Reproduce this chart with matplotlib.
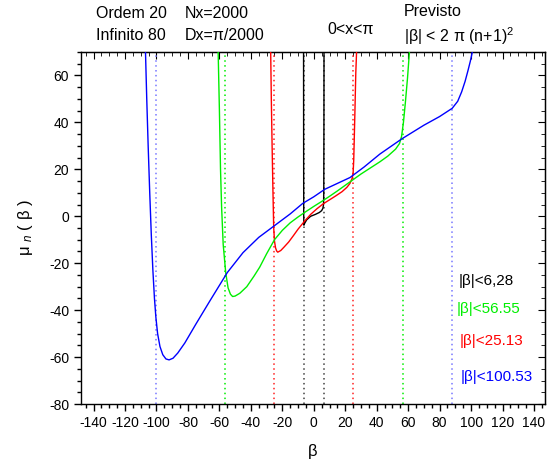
import matplotlib
matplotlib.use("Agg")
import matplotlib.pyplot as plt
from matplotlib.ticker import MultipleLocator

plt.rcParams['font.family'] = ['Liberation Sans', 'DejaVu Sans']
plt.rcParams['mathtext.fontset'] = 'custom'
plt.rcParams['mathtext.rm'] = 'Liberation Sans'
plt.rcParams['mathtext.it'] = 'Liberation Sans:italic'
plt.rcParams['axes.unicode_minus'] = False

# mu_n(beta) curves for each truncation order
black_beta = [-6.5, -6.45, -6.4, -6.3, -5.8, -4.5, -2.0, 1.0, 3.5, 5.0, 5.8, 6.2, 6.35, 6.45, 6.5]
black_mu = [70, 30, 0, -3.8, -3.0, -1.5, 0.0, 0.8, 1.6, 2.4, 3.4, 5.0, 10, 40, 70]

red_beta = [-27.4, -27.0, -26.5, -26.0, -25.5, -25.0, -24.3, -23.6, -22.9, -21.0, -19.0,
            -16.0, -13.0, -10.0, -6.0, -2.0, 2.0, 6.0, 10.0, 14.0, 18.0, 21.0, 23.0,
            24.3, 25.0, 25.4, 25.7, 26.2, 26.7, 27.2]
red_mu = [70, 50, 30, 12, -4.7, -10.5, -13.5, -14.8, -15.3, -14.6, -13.2,
          -11.0, -8.3, -5.5, -2.2, 0.8, 3.2, 5.3, 7.0, 8.7, 10.5, 12.3, 14.0,
          16.0, 18.3, 24.0, 32.0, 46.0, 61.0, 70]

green_beta = [-60.8, -60.0, -59.3, -58.6, -57.6, -56.0, -54.5, -53.0, -51.6, -50.0, -47.0,
              -42.6, -38.0, -34.4, -30.0, -25.0, -20.0, -15.0, -10.0, -5.0, 0.0, 5.0,
              10.0, 15.0, 20.0, 25.0, 30.0, 36.0, 42.0, 47.0, 52.0, 54.5, 55.8, 57.0,
              58.3, 59.6, 60.8]
green_mu = [70, 45, 20, 3.8, -12, -24, -30.5, -33.2, -34.2, -34.0, -32.8,
            -30.0, -25.5, -21.7, -16.0, -10.0, -6.0, -2.8, -0.3, 2.0, 4.2, 6.3,
            8.5, 10.8, 13.2, 15.6, 18.0, 20.6, 23.2, 25.6, 28.6, 31.0, 34.0, 40.0,
            49.0, 59.0, 70]

blue_beta = [-107.0, -106.2, -105.3, -104.3, -103.3, -102.3, -101.3, -100.4, -99.3, -97.8,
             -96.0, -94.0, -92.0, -89.5, -86.5, -82.0, -75.0, -66.0, -55.0, -45.0, -35.0,
             -25.0, -15.0, -7.0, 0.0, 7.0, 15.0, 23.0, 32.0, 42.0, 56.0, 70.0, 80.0, 88.0,
             91.5, 94.0, 96.2, 98.0, 99.5, 100.8]
blue_mu = [70, 50, 30, 10, -8, -23, -35, -43, -50, -55.5,
           -59.0, -60.8, -61.2, -60.5, -58.3, -54.0, -46.0, -36.0, -24.0, -15.5, -9.0,
           -4.0, 1.0, 5.5, 8.3, 11.5, 14.0, 16.5, 21.0, 26.5, 33.0, 38.8, 42.5, 46.0,
           49.0, 53.0, 57.5, 62.0, 66.0, 70]

# predicted bounds |beta| < 2*pi*(n+1)^2
black_bounds = [-6.28, 6.28]
red_bounds = [-25.13, 25.13]
green_bounds = [-56.55, 56.55]
blue_bounds = [-100.53, 87.96]

bound_labels = ['|β|<6,28', '|β|<56.55', '|β|<25.13', '|β|<100.53']
bound_colors = ['black', '#00ee00', 'red', 'blue']

x_ticks = list(range(-140, 141, 20))
y_ticks = list(range(-80, 61, 20))

W, H = 547, 461
fig = plt.figure(figsize=(W / 100, H / 100), dpi=100)
ax = fig.add_axes([81 / W, 1 - 404 / H, (545 - 81) / W, (404 - 52) / H])

for xb in black_bounds:
    ax.axvline(xb, color='#404040', ls=(0, (1, 2.2)), lw=1.1, zorder=1)
for xb in red_bounds:
    ax.axvline(xb, color='#ff2020', ls=(0, (1, 2.2)), lw=1.1, zorder=1)
for xb in green_bounds:
    ax.axvline(xb, color='#00ee00', ls=(0, (1, 2.2)), lw=1.1, zorder=1)
for xb in blue_bounds:
    ax.axvline(xb, color='#7777ff', ls=(0, (1, 2.2)), lw=1.1, zorder=1)

ax.plot(black_beta, black_mu, color='black', lw=1.0, zorder=3)
ax.plot(red_beta, red_mu, color='red', lw=1.0, zorder=3)
ax.plot(green_beta, green_mu, color='#00ee00', lw=1.0, zorder=3)
ax.plot(blue_beta, blue_mu, color='blue', lw=1.0, zorder=4)

ax.set_xlim(-148, 147)
ax.set_ylim(-80, 70)
ax.set_xticks(x_ticks)
ax.set_yticks(y_ticks)
ax.xaxis.set_minor_locator(MultipleLocator(5))
ax.yaxis.set_minor_locator(MultipleLocator(5))
ax.tick_params(which='both', direction='out', labelsize=10, top=False, right=False)
ax.tick_params(which='major', length=5, width=1)
ax.tick_params(which='minor', length=3, width=1)
for s in ax.spines.values():
    s.set_linewidth(1.0)

# mirrored inward ticks on the top and right edges
top = ax.secondary_xaxis('top')
top.set_xticks(x_ticks)
top.xaxis.set_minor_locator(MultipleLocator(5))
top.tick_params(which='both', direction='in', labeltop=False)
top.tick_params(which='major', length=5)
top.tick_params(which='minor', length=3)
right = ax.secondary_yaxis('right')
right.set_yticks(y_ticks)
right.yaxis.set_minor_locator(MultipleLocator(5))
right.tick_params(which='both', direction='in', labelright=False)
right.tick_params(which='major', length=5)
right.tick_params(which='minor', length=3)

ax.set_xlabel('β', fontsize=12, labelpad=10)
ax.set_ylabel('μ $_n$ ( β )', fontsize=12, labelpad=10)

def ftext(x, y, s, size=11.5, **kw):
    fig.text(x / W, 1 - y / H, s, va='center', ha='left', fontsize=size, **kw)

ftext(96, 14, 'Ordem 20')
ftext(185, 14, 'Nx=2000')
ftext(96, 36, 'Infinito 80')
ftext(185, 36, 'Dx=π/2000')
ftext(327, 29, '0<x<π')
ftext(404, 11, 'Previsto')
ftext(404, 36, '|β| < 2 π (n+1)$^2$')

label_pos = [(459, 281), (457, 309), (460, 341), (461, 377)]
for (lx, ly), lab, col in zip(label_pos, bound_labels, bound_colors):
    ftext(lx, ly, lab, size=11, color=col)

fig.savefig('out.png', dpi=100)
